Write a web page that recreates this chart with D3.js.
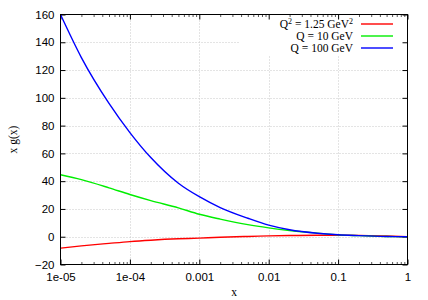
<!DOCTYPE html>
<html>
<head>
<meta charset="utf-8">
<style>
  body { margin: 0; background: #fff; }
  svg { display: block; font-family: "Liberation Serif", "DejaVu Serif", serif; }
  .tick text { font-size: 11.5px; fill: #000; }
  .grid line { stroke: #c8c8c8; stroke-width: 1; stroke-dasharray: 1,2; }
  .legend text { font-size: 11.5px; fill: #000; }
  .axis-label { font-size: 11.5px; fill: #000; }
</style>
</head>
<body>
<svg width="428" height="300"></svg>
<script src="https://d3js.org/d3.v7.min.js"></script>
<script>
// x values (shared by all three curves)
const xVals = [1e-5, 2e-5, 5e-5, 1e-4, 2e-4, 5e-4, 1e-3, 2e-3, 5e-3, 1e-2, 2e-2, 5e-2, 0.1, 0.2, 0.5, 1];

// x g(x)
const gluonQ0 = [-8.2, -6.6, -4.8, -3.5, -2.5, -1.5, -1.0, -0.4, 0.2, 0.6, 0.9, 1.1, 1.1, 1.0, 0.5, 0];
const gluonQ10 = [44.6, 41.1, 35.2, 30.4, 26, 20.8, 16.2, 12.7, 8.7, 6.4, 4.5, 2.6, 1.3, 0.8, 0.2, 0];
const gluonQ100 = [160, 129, 96, 75, 57, 38.5, 28.8, 21, 13.3, 8.3, 5, 2.5, 1.4, 0.8, 0.2, 0];

const seriesNames = ["Q2", "Q = 10 GeV", "Q = 100 GeV"];
const seriesColors = ["#ff0000", "#00ee00", "#0000ff"];

const xTicks = [1e-5, 1e-4, 1e-3, 1e-2, 0.1, 1];
const xTickLabels = ["1e-05", "1e-04", "0.001", "0.01", "0.1", "1"];
const yTicks = [-20, 0, 20, 40, 60, 80, 100, 120, 140, 160];

const width = 428, height = 300;
const margin = { top: 14.5, right: 20.5, bottom: 35.5, left: 60.5 };
const x0 = margin.left, x1 = width - margin.right;
const y0 = height - margin.bottom, y1 = margin.top;

const svg = d3.select("svg");

const x = d3.scaleLog().domain([1e-5, 1]).range([x0, x1]);
const y = d3.scaleLinear().domain([-20, 160]).range([y0, y1]);

// grid
const grid = svg.append("g").attr("class", "grid");
grid.selectAll(".gx").data(xTicks.slice(1, -1)).join("line")
  .attr("x1", d => Math.round(x(d)) + 0.5).attr("x2", d => Math.round(x(d)) + 0.5)
  .attr("y1", y0).attr("y2", y1);
grid.selectAll(".gy").data(yTicks.slice(1, -1)).join("line")
  .attr("y1", d => Math.round(y(d)) + 0.5).attr("y2", d => Math.round(y(d)) + 0.5)
  .attr("x1", x0).attr("x2", x1);

// key background (opaque)
svg.append("rect")
  .attr("x", 240).attr("y", y1).attr("width", x1 - 240).attr("height", 41)
  .attr("fill", "#fff");

// minor x ticks
let minor = [];
for (let e = -5; e < 0; e++) {
  for (let m = 2; m <= 9; m++) minor.push(m * Math.pow(10, e));
}

const xAxisB = d3.axisBottom(x).tickValues(xTicks).tickFormat((d, i) => xTickLabels[i])
  .tickSizeInner(-5).tickSizeOuter(0).tickPadding(8);
svg.append("g").attr("transform", `translate(0,${y0})`).call(xAxisB)
  .call(g => g.select(".domain").remove())
  .call(g => g.selectAll(".tick line").attr("stroke", "#000"));

const xAxisT = d3.axisTop(x).tickValues(xTicks).tickFormat("")
  .tickSizeInner(-5).tickSizeOuter(0);
svg.append("g").attr("transform", `translate(0,${y1})`).call(xAxisT)
  .call(g => g.select(".domain").remove());

const minorB = d3.axisBottom(x).tickValues(minor).tickFormat("").tickSizeInner(-2.5).tickSizeOuter(0);
svg.append("g").attr("transform", `translate(0,${y0})`).call(minorB)
  .call(g => g.select(".domain").remove())
  .call(g => g.selectAll(".tick line").attr("stroke", "#555"));
const minorT = d3.axisTop(x).tickValues(minor).tickFormat("").tickSizeInner(-2.5).tickSizeOuter(0);
svg.append("g").attr("transform", `translate(0,${y1})`).call(minorT)
  .call(g => g.select(".domain").remove())
  .call(g => g.selectAll(".tick line").attr("stroke", "#555"));

const yAxisL = d3.axisLeft(y).tickValues(yTicks).tickFormat(d3.format("d"))
  .tickSizeInner(-5).tickSizeOuter(0).tickPadding(6);
svg.append("g").attr("transform", `translate(${x0},0)`).call(yAxisL)
  .call(g => g.select(".domain").remove());
const yAxisR = d3.axisRight(y).tickValues(yTicks).tickFormat("")
  .tickSizeInner(-5).tickSizeOuter(0);
svg.append("g").attr("transform", `translate(${x1},0)`).call(yAxisR)
  .call(g => g.select(".domain").remove());

// curves
const seriesData = [gluonQ0, gluonQ10, gluonQ100];
const line = d3.line()
  .x((d, i) => x(xVals[i]))
  .y(d => y(d))
  .curve(d3.curveMonotoneX);

svg.append("defs").append("clipPath").attr("id", "plot")
  .append("rect").attr("x", x0).attr("y", y1).attr("width", x1 - x0).attr("height", y0 - y1);

svg.append("g").attr("clip-path", "url(#plot)")
  .selectAll("path").data(seriesData).join("path")
  .attr("fill", "none")
  .attr("stroke", (d, i) => seriesColors[i])
  .attr("stroke-width", 1.4)
  .attr("d", line);

// frame
svg.append("rect")
  .attr("x", x0).attr("y", y1).attr("width", x1 - x0).attr("height", y0 - y1)
  .attr("fill", "none").attr("stroke", "#000").attr("stroke-width", 1);

// legend
const legend = svg.append("g").attr("class", "legend");
const rowsY = [24, 36, 48];
rowsY.forEach((ry, i) => {
  legend.append("line")
    .attr("x1", 361).attr("x2", 393).attr("y1", ry).attr("y2", ry)
    .attr("stroke", seriesColors[i]).attr("stroke-width", 1.4);
});
const t0 = legend.append("text").attr("x", 353).attr("y", rowsY[0] + 4).attr("text-anchor", "end");
t0.append("tspan").text("Q");
t0.append("tspan").attr("dy", -4.5).attr("font-size", "8px").text("2");
t0.append("tspan").attr("dy", 4.5).text(" = 1.25 GeV");
t0.append("tspan").attr("dy", -4.5).attr("font-size", "8px").text("2");
legend.append("text").attr("x", 353).attr("y", rowsY[1] + 4).attr("text-anchor", "end").text(seriesNames[1]);
legend.append("text").attr("x", 353).attr("y", rowsY[2] + 4).attr("text-anchor", "end").text(seriesNames[2]);

// axis labels
svg.append("text").attr("class", "axis-label")
  .attr("x", (x0 + x1) / 2).attr("y", 296).attr("text-anchor", "middle").text("x");
svg.append("text").attr("class", "axis-label")
  .attr("transform", `translate(17,${(y0 + y1) / 2}) rotate(-90)`)
  .attr("text-anchor", "middle").text("x g(x)");
</script>
</body>
</html>
